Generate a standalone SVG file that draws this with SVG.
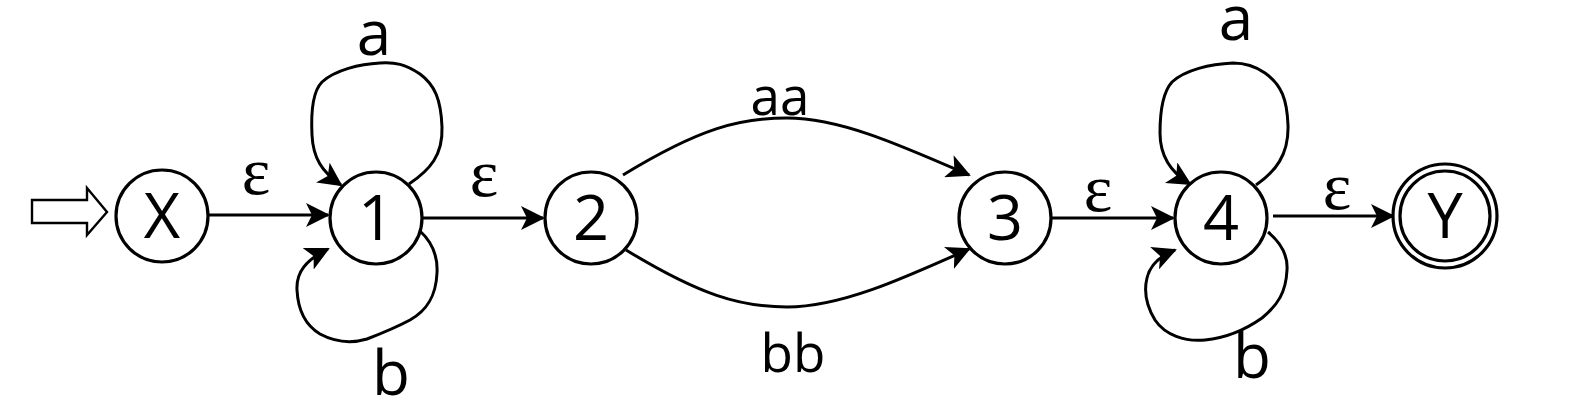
<svg xmlns="http://www.w3.org/2000/svg" width="1596" height="406" viewBox="0 0 1596 406">
<style>
.node{fill:#fff;stroke:#000;stroke-width:3.2}
.edge{fill:none;stroke:#000;stroke-width:3}
.nl{font-family:"Open Sans","Noto Sans","DejaVu Sans",sans-serif;font-size:63px;text-anchor:middle;fill:#000}
.ll{font-family:"Open Sans","Noto Sans","DejaVu Sans",sans-serif;font-size:62px;text-anchor:middle;fill:#000}
.el{font-family:"Open Sans","Noto Sans","DejaVu Sans",sans-serif;font-size:53px;text-anchor:middle;fill:#000}
.ep{font-family:"Liberation Serif","DejaVu Serif",serif;font-size:68px;text-anchor:middle;fill:#000}
</style>
<defs>
<marker id="arr" viewBox="0 0 24 24" refX="22" refY="12" markerWidth="24" markerHeight="24" markerUnits="userSpaceOnUse" orient="auto">
<path d="M0,0 L24,12 L0,24 L6,12 Z" fill="#000"/>
</marker>
</defs>
<rect width="1596" height="406" fill="#fff"/>
<g id="connectors">
<polygon points="32,200 87,200 87,188 107,212 87,235 87,223 32,223" fill="#fff" stroke="#000" stroke-width="2.4"/>
<path class="edge" d="M209,215 L328,215" marker-end="url(#arr)"/>
<path class="edge" d="M422,218 L543,218" marker-end="url(#arr)"/>
<path class="edge" d="M1052,218 L1173,218" marker-end="url(#arr)"/>
<path class="edge" d="M1273,216 L1393,216" marker-end="url(#arr)"/>
<path class="edge" d="M623,175 C700,128 740,118 787,118 C840,118 900,145 969,175" marker-end="url(#arr)"/>
<path class="edge" d="M626,250 C700,295 740,307 787,307 C840,307 900,280 969,249" marker-end="url(#arr)"/>
<path class="edge" d="M409,184 C430,170 443,155 442,127 C441,100 435,85 420,74 C405,64 395,62 380,63 C360,64 335,70 322,82 C312,92 311,115 312,135 C313,158 322,172 341,185" marker-end="url(#arr)"/>
<path class="edge" d="M420,231 C432,242 438,255 437,273 C436,295 428,310 410,320 C395,328 380,334 367,339 C350,344 335,342 320,334 C305,325 298,310 297,290 C296,272 306,260 328,249" marker-end="url(#arr)"/>
<path class="edge" d="M1256,185 C1275,172 1289,155 1288,125 C1287,100 1282,85 1265,73 C1255,66 1245,63 1233,63 C1210,64 1185,70 1172,82 C1163,92 1160,112 1160,133 C1160,155 1170,172 1190,184" marker-end="url(#arr)"/>
<path class="edge" d="M1268,232 C1280,242 1288,255 1287,270 C1286,292 1278,305 1262,318 C1245,330 1225,338 1205,340 C1185,342 1165,335 1155,320 C1146,305 1144,290 1147,278 C1150,265 1160,256 1175,250" marker-end="url(#arr)"/>
<text class="ep" x="256" y="194">ε</text>
<text class="ep" x="484" y="196">ε</text>
<text class="ep" x="1098" y="211">ε</text>
<text class="ep" x="1337" y="209">ε</text>
<text class="el" x="780" y="115">aa</text>
<text class="el" x="793" y="372">bb</text>
<text class="ll" x="374" y="55">a</text>
<text class="ll" x="391" y="395">b</text>
<text class="ll" x="1236" y="40">a</text>
<text class="ll" x="1252" y="378">b</text>
</g>
<g id="node-X"><circle class="node" cx="162" cy="216" r="46"/><text class="nl" x="162" y="238">X</text></g>
<g id="node-1"><circle class="node" cx="376" cy="218" r="46"/><text class="nl" x="376" y="240">1</text></g>
<g id="node-2"><circle class="node" cx="591" cy="218" r="46"/><text class="nl" x="591" y="240">2</text></g>
<g id="node-3"><circle class="node" cx="1005" cy="218" r="46"/><text class="nl" x="1005" y="240">3</text></g>
<g id="node-4"><circle class="node" cx="1221" cy="218" r="46"/><text class="nl" x="1221" y="240">4</text></g>
<g id="node-Y"><circle class="node" cx="1445" cy="216" r="52"/><circle class="node" cx="1445" cy="216" r="45"/><text class="nl" x="1445" y="238">Y</text></g>
</svg>
